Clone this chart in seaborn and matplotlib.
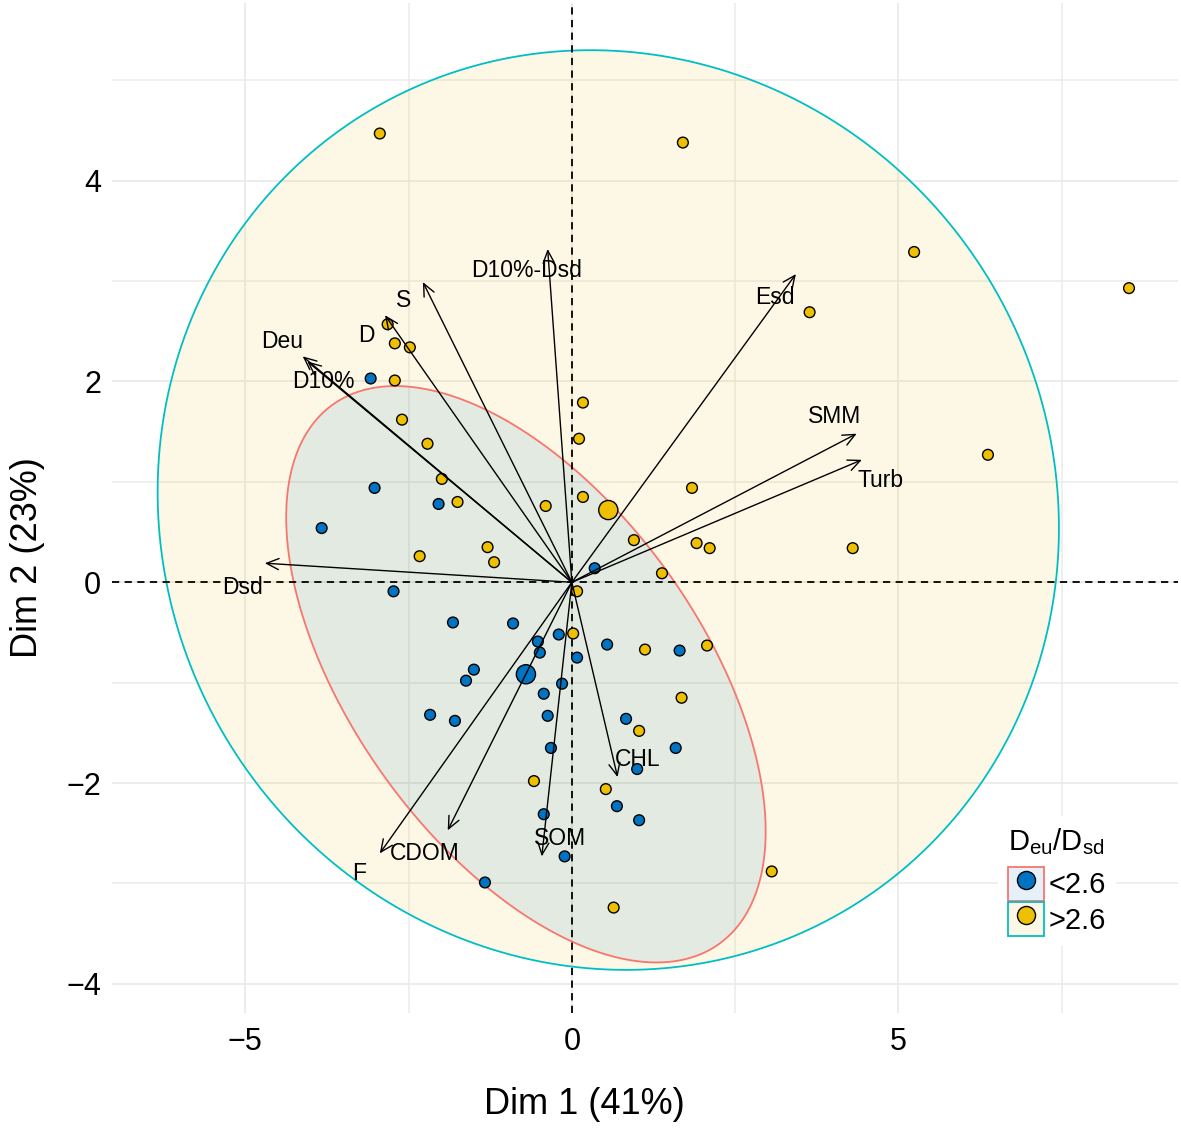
import numpy as np
import pandas as pd
import matplotlib
matplotlib.use("Agg")
import matplotlib.pyplot as plt
import seaborn as sns
from matplotlib.patches import Patch
from matplotlib.lines import Line2D
from matplotlib.legend_handler import HandlerTuple
from matplotlib.colors import to_rgba
from matplotlib.ticker import MultipleLocator

# individuals, group Deu/Dsd < 2.6
lo_x = [-3.08, -3.02, -3.83, -2.04, -2.73, 0.35, -1.82, -0.90, -0.20, -0.52,
        -0.49, 0.54, 1.65, 0.08, -1.50, -1.62, -0.15, -0.43, -2.17, -1.79,
        -0.37, 0.83, -0.32, 1.59, 1.00, 0.69, 1.03, -0.43, -0.11, -1.33]
lo_y = [2.03, 0.94, 0.54, 0.78, -0.09, 0.14, -0.40, -0.41, -0.52, -0.59,
        -0.70, -0.62, -0.68, -0.75, -0.87, -0.98, -1.01, -1.11, -1.32, -1.38,
        -1.33, -1.36, -1.65, -1.65, -1.86, -2.23, -2.37, -2.31, -2.73, -2.99]

# individuals, group Deu/Dsd > 2.6
hi_x = [-2.94, 1.70, 5.24, 8.53, 3.64, -2.82, -2.71, -2.48, -2.71, 0.17,
        -2.60, 0.11, -2.21, 6.37, 1.84, -1.99, -1.75, 0.17, -0.40, 0.95,
        1.91, 2.11, 4.30, -1.29, -2.33, -1.19, 1.38, 0.08, 0.02, 1.12,
        2.07, 1.68, 1.03, -0.58, 0.52, 3.06, 0.64]
hi_y = [4.47, 4.38, 3.29, 2.93, 2.69, 2.57, 2.38, 2.34, 2.01, 1.79,
        1.62, 1.43, 1.38, 1.27, 0.94, 1.03, 0.80, 0.85, 0.76, 0.42,
        0.39, 0.34, 0.34, 0.35, 0.26, 0.20, 0.09, -0.09, -0.51, -0.67,
        -0.63, -1.15, -1.48, -1.98, -2.06, -2.88, -3.24]

groups = ['<2.6', '>2.6']

# variable arrows (scaled loadings)
var_names = ['Deu', 'D10%', 'D', 'S', 'D10%-Dsd', 'Esd', 'SMM', 'Turb',
             'Dsd', 'CHL', 'SOM', 'CDOM', 'F']
var_x = [-4.12, -4.05, -2.86, -2.28, -0.37, 3.43, 4.36, 4.44,
         -4.70, 0.70, -0.46, -1.90, -2.94]
var_y = [2.25, 2.20, 2.66, 2.99, 3.32, 3.07, 1.48, 1.22,
         0.19, -1.94, -2.73, -2.47, -2.70]
# label offsets from the arrow tips (repelled text)
lab_dx = [-0.32, 0.24, -0.29, -0.29, -0.33, -0.32, -0.33, 0.28,
          -0.34, 0.31, 0.28, -0.35, -0.31]
lab_dy = [0.15, -0.20, -0.20, -0.18, -0.21, -0.23, 0.17, -0.21,
          -0.24, 0.17, 0.18, -0.23, -0.20]

# concentration ellipses (covariance)
ell_cov = {'<2.6': [[13.47, -5.74], [-5.74, 8.24]],
           '>2.6': [[47.6, -1.24], [-1.24, 20.98]]}

fill_pal = {'<2.6': '#0073C2', '>2.6': '#EFC000'}
edge_pal = {'<2.6': '#F8766D', '>2.6': '#00BFC4'}

df = pd.DataFrame({
    'Dim1': lo_x + hi_x,
    'Dim2': lo_y + hi_y,
    'grp': ['<2.6'] * len(lo_x) + ['>2.6'] * len(hi_x),
})
centers = df.groupby('grp')[['Dim1', 'Dim2']].mean()

sns.set_style('white')
plt.rcParams['font.family'] = ['Liberation Sans', 'DejaVu Sans']
plt.rcParams['mathtext.default'] = 'regular'
plt.rcParams['text.color'] = 'black'
plt.rcParams['axes.labelcolor'] = 'black'

fig, ax = plt.subplots(figsize=(11.81, 11.28), dpi=100)
fig.subplots_adjust(left=112 / 1181, right=1178 / 1181,
                    bottom=1 - 1013 / 1128, top=1 - 3 / 1128)

# ellipses
t = np.linspace(0, 2 * np.pi, 300)
for g in ['>2.6', '<2.6']:
    L = np.linalg.cholesky(np.array(ell_cov[g]))
    pts = (L @ np.vstack([np.cos(t), np.sin(t)])).T
    ex = pts[:, 0] + centers.loc[g, 'Dim1']
    ey = pts[:, 1] + centers.loc[g, 'Dim2']
    ax.fill(ex, ey, facecolor=to_rgba(fill_pal[g], 0.1),
            edgecolor=edge_pal[g], lw=1.3, zorder=1)

ax.axhline(0, color='black', lw=1.3, ls=(0, (4, 3)), zorder=2)
ax.axvline(0, color='black', lw=1.3, ls=(0, (4, 3)), zorder=2)

sns.scatterplot(data=df, x='Dim1', y='Dim2', hue='grp', palette=fill_pal,
                s=60, edgecolor='black', linewidth=1.0, legend=False,
                ax=ax, zorder=3)

# group centroids
cent = centers.reset_index()
sns.scatterplot(data=cent, x='Dim1', y='Dim2', hue='grp', palette=fill_pal,
                s=190, edgecolor='black', linewidth=1.0, legend=False,
                ax=ax, zorder=3)

for name, vx, vy, dx, dy in zip(var_names, var_x, var_y, lab_dx, lab_dy):
    ax.annotate('', xy=(vx, vy), xytext=(0, 0),
                arrowprops=dict(arrowstyle='->,head_length=0.55,head_width=0.25',
                                color='black', lw=1.0, shrinkA=0, shrinkB=0,
                                mutation_scale=16),
                zorder=4)
    ax.text(vx + dx, vy + dy, name, fontsize=16.5, ha='center', va='center',
            color='black', zorder=5)

ax.set_xlim(-7.04, 9.28)
ax.set_ylim(-4.29, 5.77)
ax.xaxis.set_major_locator(MultipleLocator(5))
ax.xaxis.set_minor_locator(MultipleLocator(2.5))
ax.yaxis.set_major_locator(MultipleLocator(2))
ax.yaxis.set_minor_locator(MultipleLocator(1))
ax.grid(True, which='major', color='#EBEBEB', lw=1.3, zorder=0)
ax.grid(True, which='minor', color='#EBEBEB', lw=1.1, zorder=0)
ax.set_axisbelow(True)
for s in ax.spines.values():
    s.set_visible(False)
ax.tick_params(which='major', length=4, width=1, color='#333333',
               labelsize=22, labelcolor='black')
ax.tick_params(axis='x', pad=6)
ax.tick_params(axis='y', pad=4)
ax.tick_params(which='minor', length=0)

ax.set_xlabel('Dim 1 (41%)', fontsize=26, color='black')
ax.set_ylabel('Dim 2 (23%)', fontsize=26, color='black')
ax.xaxis.label.set_va('center')
ax.yaxis.label.set_va('center')
ax.xaxis.set_label_coords((584 - 112) / 1066, (1013 - 1104) / 1010)
ax.yaxis.set_label_coords((28 - 112) / 1066, (1013 - 558) / 1010)

handles = []
for g in groups:
    box = Patch(facecolor=to_rgba(fill_pal[g], 0.1), edgecolor=edge_pal[g], lw=1.3)
    dot = Line2D([], [], marker='o', ls='', markersize=13,
                 markerfacecolor=fill_pal[g], markeredgecolor='black',
                 markeredgewidth=1.0)
    handles.append((box, dot))
leg = ax.legend(handles, groups, handler_map={tuple: HandlerTuple(ndivide=1, pad=0)},
                title='D$_{eu}$/D$_{sd}$', loc='upper left',
                bbox_to_anchor=((998 - 112) / 1066, (1013 - 816) / 1010),
                fontsize=21, title_fontsize=21, frameon=True, facecolor='white',
                edgecolor='none', framealpha=1, fancybox=False,
                handlelength=1.23, handleheight=1.42, labelspacing=0.04,
                handletextpad=0.15, borderpad=0.35, borderaxespad=0,
                alignment='left')
leg._legend_box.sep = 7
leg.set_zorder(6)

fig.savefig('out.png', dpi=100)
